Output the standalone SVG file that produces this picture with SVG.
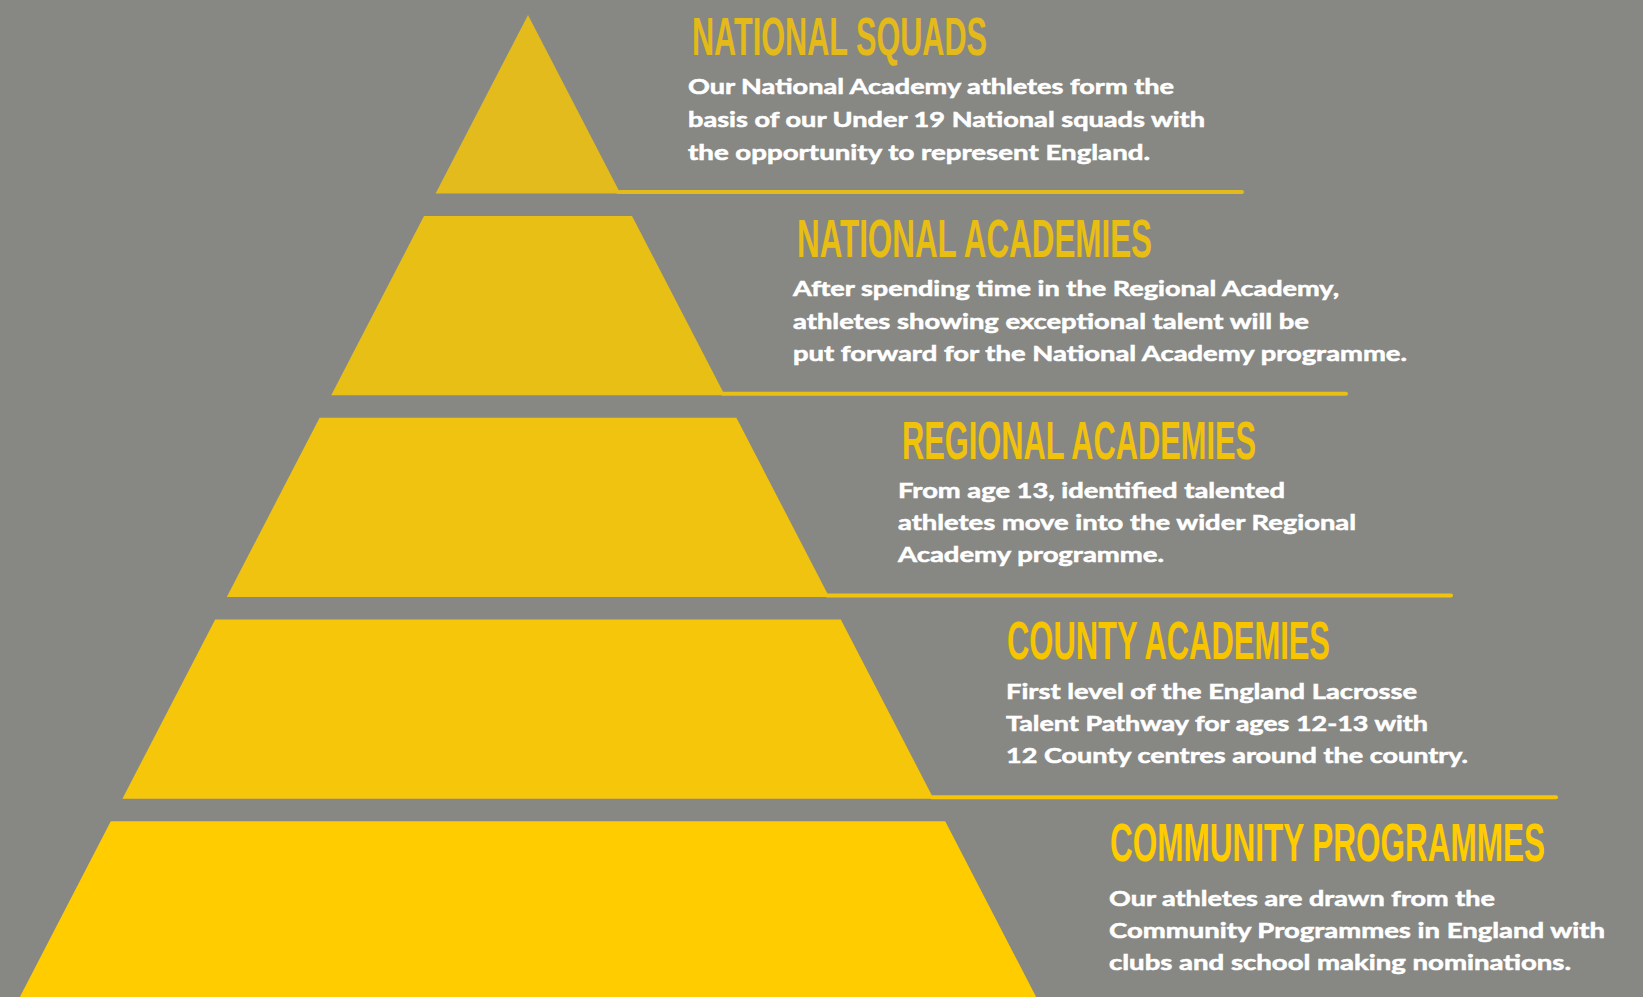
<svg xmlns="http://www.w3.org/2000/svg" width="1643" height="997" viewBox="0 0 1643 997">
  <style>
    .title { font-family: "Liberation Sans Narrow", "Liberation Sans", Arial, sans-serif; font-weight: bold; font-size: 53px; }
    .body { font-family: Lato, "Noto Sans", "Liberation Sans", sans-serif; font-weight: bold; font-size: 21.5px; fill: #ffffff; stroke: #ffffff; stroke-width: 0.55; }
    .rule { fill: none; stroke-width: 4; stroke-linecap: round; }
  </style>

  <!-- background -->
  <rect x="0" y="0" width="1643" height="997" fill="#878884"/>

  <!-- separator rules running out from each tier's lower right corner -->
  <g id="connectors">
    <line class="rule" x1="618" y1="192" x2="1242" y2="192" stroke="#E4BB1C"/>
    <line class="rule" x1="723" y1="393.8" x2="1346" y2="393.8" stroke="#E8BF15"/>
    <line class="rule" x1="827" y1="595.5" x2="1451" y2="595.5" stroke="#EFC30F"/>
    <line class="rule" x1="932" y1="797.3" x2="1556" y2="797.3" stroke="#F6C508"/>
  </g>

  <!-- tier 1 -->
  <g id="national-squads">
    <polygon points="528,15 620.4,193.5 435.6,193.5" fill="#E4BB1C"/>
    <text class="title" transform="translate(692 55) scale(0.6 1)" fill="#E4BA1A" textLength="491.7" lengthAdjust="spacingAndGlyphs">NATIONAL SQUADS</text>
    <text class="body" x="688" y="93.5" textLength="486" lengthAdjust="spacingAndGlyphs">Our National Academy athletes form the</text>
    <text class="body" x="688" y="127" textLength="517" lengthAdjust="spacingAndGlyphs">basis of our Under 19 National squads with</text>
    <text class="body" x="688" y="160" textLength="462" lengthAdjust="spacingAndGlyphs">the opportunity to represent England.</text>
  </g>

  <!-- tier 2 -->
  <g id="national-academies">
    <polygon points="424,216 632,216 724.8,395.25 331.2,395.25" fill="#E8BF15"/>
    <text class="title" transform="translate(797 257) scale(0.6 1)" fill="#E8BE13" textLength="591.7" lengthAdjust="spacingAndGlyphs">NATIONAL ACADEMIES</text>
    <text class="body" x="793" y="296" textLength="546" lengthAdjust="spacingAndGlyphs">After spending time in the Regional Academy,</text>
    <text class="body" x="793" y="328.5" textLength="516" lengthAdjust="spacingAndGlyphs">athletes showing exceptional talent will be</text>
    <text class="body" x="793" y="360.5" textLength="614" lengthAdjust="spacingAndGlyphs">put forward for the National Academy programme.</text>
  </g>

  <!-- tier 3 -->
  <g id="regional-academies">
    <polygon points="319.6,417.75 736.4,417.75 829.2,597 226.8,597" fill="#EFC30F"/>
    <text class="title" transform="translate(902 458.5) scale(0.6 1)" fill="#F0C20C" textLength="590" lengthAdjust="spacingAndGlyphs">REGIONAL ACADEMIES</text>
    <text class="body" x="898" y="497.5" textLength="387" lengthAdjust="spacingAndGlyphs">From age 13, identified talented</text>
    <text class="body" x="898" y="529.5" textLength="458" lengthAdjust="spacingAndGlyphs">athletes move into the wider Regional</text>
    <text class="body" x="898" y="561.5" textLength="266" lengthAdjust="spacingAndGlyphs">Academy programme.</text>
  </g>

  <!-- tier 4 -->
  <g id="county-academies">
    <polygon points="215.2,619.5 840.8,619.5 933.6,798.75 122.4,798.75" fill="#F6C60A"/>
    <text class="title" transform="translate(1007 659) scale(0.6 1)" fill="#F6C500" textLength="538.3" lengthAdjust="spacingAndGlyphs">COUNTY ACADEMIES</text>
    <text class="body" x="1006" y="699" textLength="411" lengthAdjust="spacingAndGlyphs">First level of the England Lacrosse</text>
    <text class="body" x="1006" y="731" textLength="422" lengthAdjust="spacingAndGlyphs">Talent Pathway for ages 12-13 with</text>
    <text class="body" x="1006" y="763" textLength="462" lengthAdjust="spacingAndGlyphs">12 County centres around the country.</text>
  </g>

  <!-- tier 5 -->
  <g id="community-programmes">
    <polygon points="110.8,821.25 945.2,821.25 1037.7,1000 18.3,1000" fill="#FFCC00"/>
    <text class="title" transform="translate(1110 860.5) scale(0.6 1)" fill="#FFCC00" textLength="725" lengthAdjust="spacingAndGlyphs">COMMUNITY PROGRAMMES</text>
    <text class="body" x="1109" y="906" textLength="386" lengthAdjust="spacingAndGlyphs">Our athletes are drawn from the</text>
    <text class="body" x="1109" y="938" textLength="496" lengthAdjust="spacingAndGlyphs">Community Programmes in England with</text>
    <text class="body" x="1109" y="970" textLength="462" lengthAdjust="spacingAndGlyphs">clubs and school making nominations.</text>
  </g>
</svg>
